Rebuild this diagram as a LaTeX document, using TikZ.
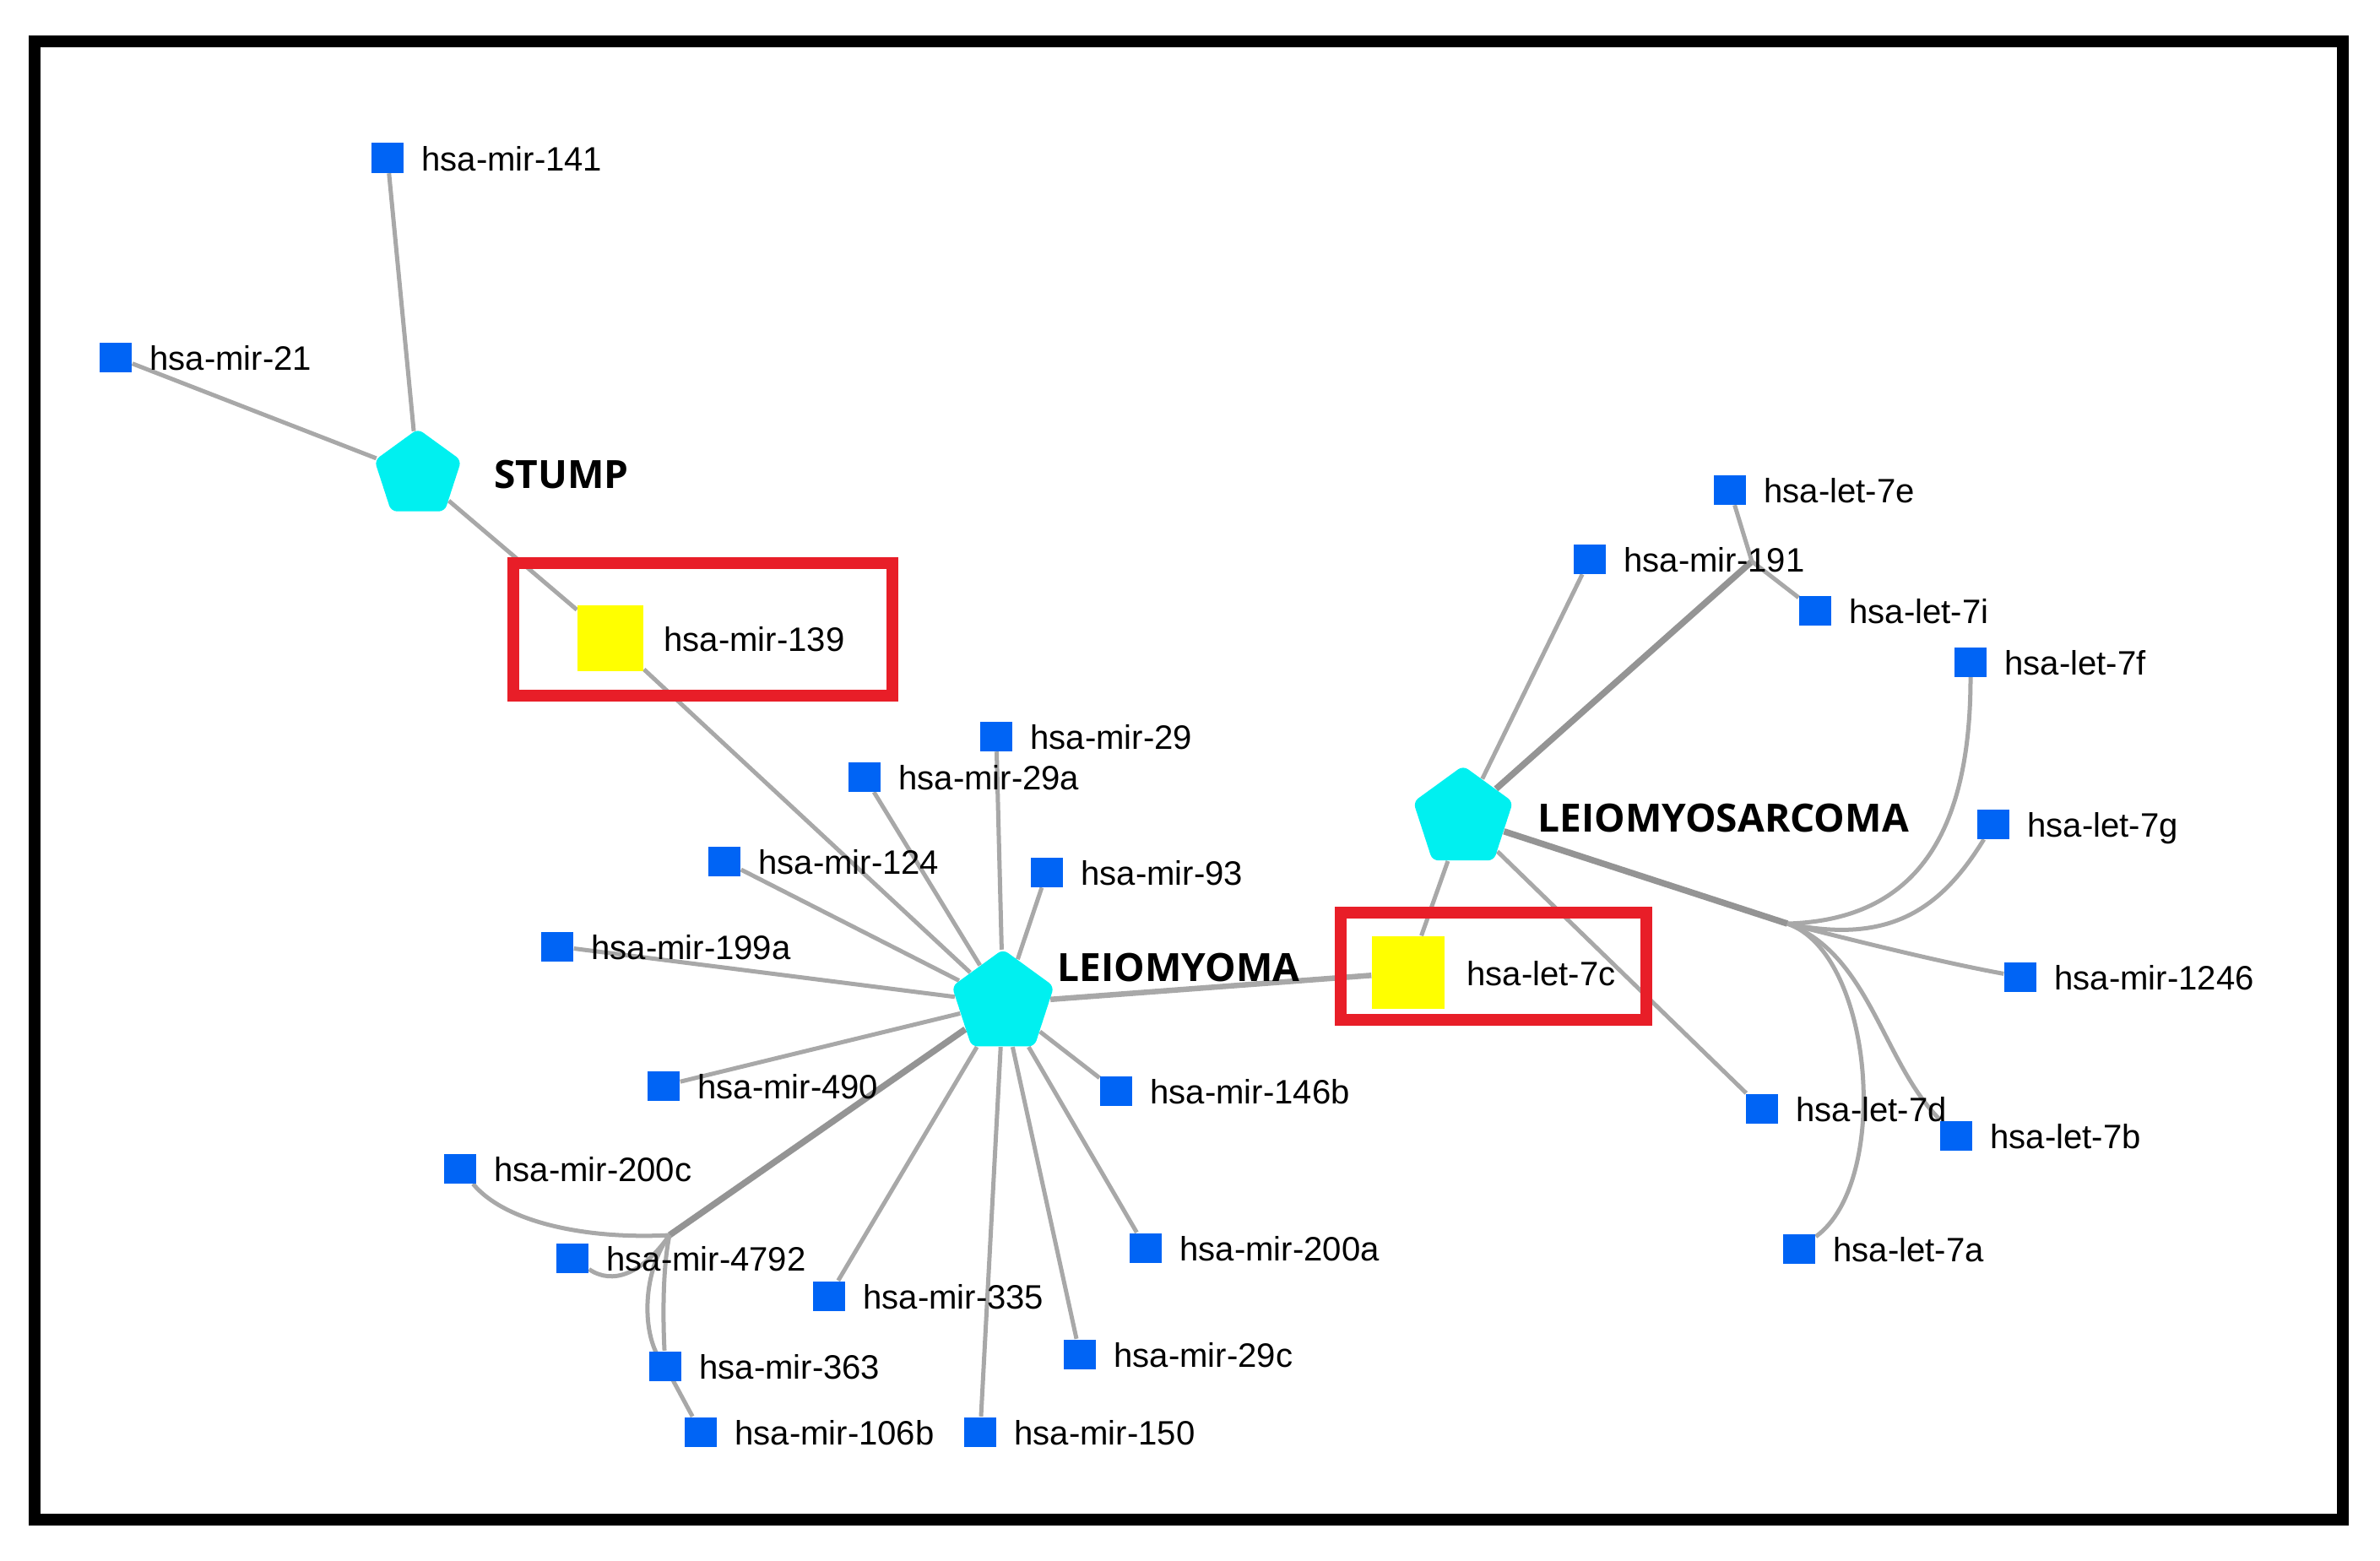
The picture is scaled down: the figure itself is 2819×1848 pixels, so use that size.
\documentclass[tikz,border=0pt]{standalone}
\usepackage{fontspec}
\setmainfont{Liberation Sans}
\newfontfamily\diseasefont{Open Sans}
\usetikzlibrary{shapes.geometric,backgrounds}
\definecolor{mirblue}{RGB}{0,100,245}
\definecolor{discyan}{RGB}{0,240,240}
\definecolor{hityellow}{RGB}{255,255,0}
\definecolor{boxred}{RGB}{232,30,40}
\definecolor{edgegray}{RGB}{168,168,168}
\tikzstyle{lbl} = [font=\fontsize{11.4}{13}\selectfont, inner sep=0pt, text height=.3cm, text depth=0cm]
\tikzstyle{biglbl} = [font=\diseasefont\bfseries\fontsize{13.1}{15}\selectfont, inner sep=0pt]
\tikzstyle{mirna} = [rectangle, fill=mirblue, minimum width=.38cm, minimum height=.35cm, inner sep=0pt]
\tikzstyle{hit} = [rectangle, fill=hityellow, inner sep=0pt]
\tikzstyle{disease} = [regular polygon, regular polygon sides=5, fill=discyan, inner sep=0pt, rounded corners=2pt]
\tikzstyle{edge} = [draw=edgegray, line width=.05cm]
\tikzstyle{bundle} = [draw=edgegray!88!black, line width=.075cm]
\tikzstyle{redbox} = [draw=boxred, line width=.14cm]
\newcommand{\mir}[3]{\node [mirna, label={[lbl, label distance=.2cm]right:#3}] (#1) at (#2) {};}

\begin{document}
\begin{tikzpicture}[x=0.01cm, y=-0.01cm]
	\useasboundingbox (0,0) rectangle (2819,1848);
	\draw[line width=.14cm] (41,49) rectangle (2775,1800);
	% diseases
	\node [disease, minimum size=1.08cm, label={[biglbl, label distance=.43cm]right:STUMP}] (stump) at (495,562) {};
	\node [disease, minimum size=1.27cm, label={[biglbl, label distance=.09cm, yshift=.42cm]right:LEIOMYOMA}] (leio) at (1188,1188) {};
	\node [disease, minimum size=1.24cm, label={[biglbl, label distance=.34cm]right:LEIOMYOSARCOMA}] (lms) at (1733,969) {};
	% shared mirnas
	\node [hit, minimum size=.78cm, label={[lbl, label distance=.23cm]right:hsa-mir-139}] (m139) at (723,756) {};
	\node [hit, minimum size=.86cm, label={[lbl, label distance=.25cm]right:hsa-let-7c}] (l7c) at (1668,1152) {};
	\draw[redbox] (608,667) rectangle (1057,824);
	\draw[redbox] (1588,1081) rectangle (1950,1208);
	% stump
	\mir{m141}{459,187}{hsa-mir-141}
	\mir{m21}{137,423}{hsa-mir-21}
	% leiomyoma
	\mir{m29}{1180,872}{hsa-mir-29}
	\mir{m29a}{1024,920}{hsa-mir-29a}
	\mir{m124}{858,1020}{hsa-mir-124}
	\mir{m93}{1240,1033}{hsa-mir-93}
	\mir{m199a}{660,1121}{hsa-mir-199a}
	\mir{m490}{786,1286}{hsa-mir-490}
	\mir{m146b}{1322,1292}{hsa-mir-146b}
	\mir{m200c}{545,1384}{hsa-mir-200c}
	\mir{m4792}{678,1490}{hsa-mir-4792}
	\mir{m200a}{1357,1478}{hsa-mir-200a}
	\mir{m335}{982,1535}{hsa-mir-335}
	\mir{m29c}{1279,1604}{hsa-mir-29c}
	\mir{m363}{788,1618}{hsa-mir-363}
	\mir{m106b}{830,1696}{hsa-mir-106b}
	\mir{m150}{1161,1696}{hsa-mir-150}
	% leiomyosarcoma
	\mir{l7e}{2049,580}{hsa-let-7e}
	\mir{m191}{1883,662}{hsa-mir-191}
	\mir{l7i}{2150,723}{hsa-let-7i}
	\mir{l7f}{2334,784}{hsa-let-7f}
	\mir{l7g}{2361,976}{hsa-let-7g}
	\mir{m1246}{2393,1157}{hsa-mir-1246}
	\mir{l7d}{2087,1313}{hsa-let-7d}
	\mir{l7b}{2317,1345}{hsa-let-7b}
	\mir{l7a}{2131,1479}{hsa-let-7a}
	\begin{pgfonlayer}{background}
		\draw[edge] (stump) -- (m141);
		\draw[edge] (stump) -- (m21);
		\draw[edge] (stump) -- (m139);
		\draw[edge] (m139) -- (leio);
		\draw[edge] (leio) -- (m29);
		\draw[edge] (leio) -- (m29a);
		\draw[edge] (leio) -- (m124);
		\draw[edge] (leio) -- (m93);
		\draw[edge] (leio) -- (m199a);
		\draw[edge] (leio) -- (m490);
		\draw[edge] (leio) -- (m146b);
		\draw[edge] (leio) -- (m200a);
		\draw[edge] (leio) -- (m335);
		\draw[edge] (leio) -- (m29c);
		\draw[edge] (leio) -- (m150);
		\draw[edge, line width=.065cm] (leio) -- (l7c);
		\draw[edge] (l7c) -- (lms);
		\draw[edge] (lms) -- (m191);
		\draw[edge] (lms) -- (l7d);
		% bundled edges
		\coordinate (bndL) at (793,1463);
		\coordinate (bndT) at (2075,665);
		\coordinate (bndR) at (2117,1094);
		\draw[bundle] (leio) -- (bndL);
		\draw[edge] (bndL) .. controls (700,1468) and (600,1450) .. (m200c);
		\draw[edge] (bndL) .. controls (760,1510) and (725,1522) .. (m4792);
		\draw[edge] (bndL) .. controls (785,1500) and (785,1560) .. (m363);
		\draw[edge] (bndL) .. controls (758,1510) and (760,1590) .. (m363.center) -- (m106b);
		\draw[bundle] (lms) -- (bndT);
		\draw[edge] (bndT) -- (l7e);
		\draw[edge] (bndT) -- (l7i);
		\draw[bundle] (lms) -- (bndR);
		\draw[edge] (bndR) .. controls (2260,1090) and (2334,1000) .. (l7f);
		\draw[edge] (bndR) .. controls (2240,1120) and (2300,1075) .. (l7g);
		\draw[edge] (bndR) .. controls (2200,1115) and (2300,1140) .. (m1246);
		\draw[edge] (bndR) .. controls (2215,1130) and (2230,1260) .. (l7b);
		\draw[edge] (bndR) .. controls (2220,1130) and (2240,1400) .. (l7a);
	\end{pgfonlayer}
\end{tikzpicture}
\end{document}
